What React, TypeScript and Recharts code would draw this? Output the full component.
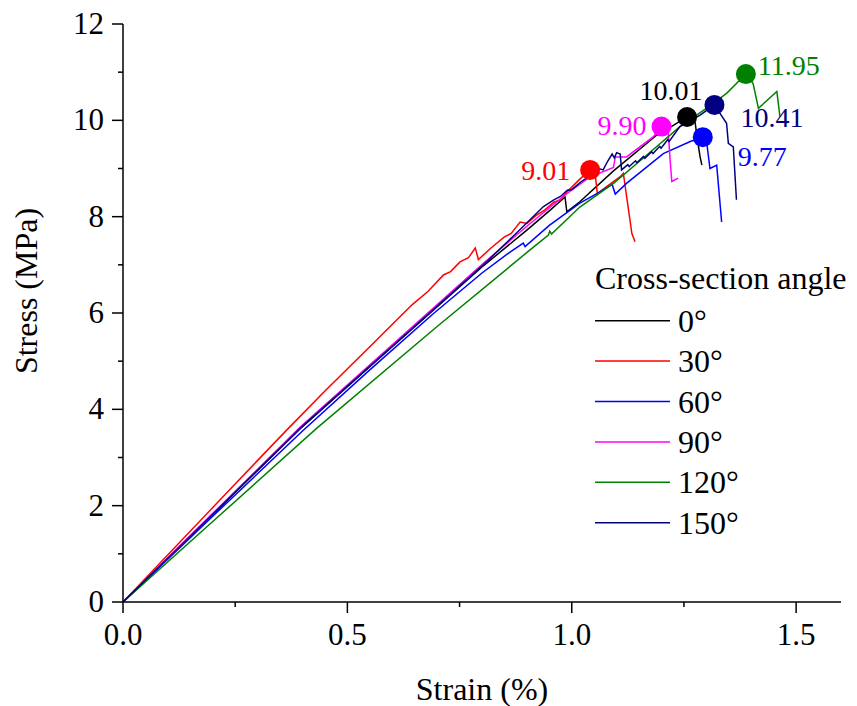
import React from 'react';
import { ComposedChart, Line, Scatter, XAxis, YAxis, Legend } from 'recharts';

const FONT = '"Liberation Serif", "Times New Roman", Times, "DejaVu Serif", serif';
const T: React.CSSProperties = { fontFamily: FONT };

// Strain (%) / Stress (MPa) points per cross-section angle
const curve0: [number, number][] = [[0,0],[0.2,1.82],[0.395,3.6],[0.6,5.3],[0.803,6.98],[0.9,7.72],[0.95,8.12],[0.985,8.41],[0.989,8.1],[1.018,8.31],[1.093,8.95],[1.189,9.69],[1.22,9.86],[1.257,10.07],[1.275,9.95],[1.28,9.6],[1.286,9.24],[1.29,9.07]];
const curve30: [number, number][] = [[0,0],[0.1,0.98],[0.2,1.96],[0.3,2.94],[0.369,3.61],[0.45,4.38],[0.55,5.3],[0.644,6.17],[0.68,6.45],[0.714,6.79],[0.73,6.86],[0.751,7.06],[0.77,7.15],[0.785,7.35],[0.792,7.11],[0.82,7.35],[0.85,7.58],[0.865,7.65],[0.885,7.89],[0.9,7.86],[0.92,8.02],[0.94,8.14],[0.96,8.3],[0.975,8.35],[0.99,8.52],[1.018,8.78],[1.041,8.97],[1.052,8.9],[1.057,8.48],[1.08,8.64],[1.108,8.83],[1.115,8.9],[1.134,7.65],[1.141,7.48]];
const curve60: [number, number][] = [[0,0],[0.2,1.78],[0.4,3.55],[0.55,4.82],[0.692,5.99],[0.8,6.83],[0.86,7.25],[0.892,7.45],[0.896,7.38],[0.95,7.82],[1.018,8.28],[1.06,8.5],[1.09,8.67],[1.097,8.47],[1.122,8.69],[1.204,9.31],[1.264,9.56],[1.292,9.65],[1.301,9.52],[1.308,9.0],[1.323,9.07],[1.334,7.89]];
const curve90: [number, number][] = [[0,0],[0.2,1.84],[0.395,3.63],[0.6,5.34],[0.803,7.03],[0.9,7.8],[0.985,8.45],[1.04,8.82],[1.093,9.02],[1.097,9.24],[1.122,9.24],[1.182,9.66],[1.2,9.87],[1.215,9.76],[1.219,9.2],[1.223,8.73],[1.237,8.8]];
const curve120: [number, number][] = [[0,0],[0.2,1.67],[0.432,3.61],[0.7,5.72],[0.907,7.31],[0.948,7.62],[0.951,7.7],[0.955,7.64],[1.018,8.2],[1.093,8.69],[1.17,9.3],[1.241,9.87],[1.3,10.25],[1.345,10.56],[1.388,10.96],[1.404,10.77],[1.416,10.25],[1.457,10.6],[1.464,10.07]];
const curve150: [number, number][] = [[0,0],[0.2,1.82],[0.395,3.61],[0.6,5.31],[0.803,7.0],[0.87,7.6],[0.937,8.21],[0.96,8.35],[0.975,8.42],[0.99,8.55],[1.0,8.56],[1.02,8.72],[1.041,8.85],[1.06,9.0],[1.07,8.97],[1.08,9.15],[1.09,9.3],[1.095,9.22],[1.1,9.33],[1.108,9.3],[1.111,8.97],[1.125,9.08],[1.128,9.04],[1.142,9.16],[1.145,9.12],[1.16,9.25],[1.163,9.21],[1.178,9.35],[1.181,9.31],[1.196,9.46],[1.199,9.42],[1.214,9.6],[1.217,9.56],[1.241,9.87],[1.26,9.97],[1.286,10.11],[1.318,10.32],[1.33,10.15],[1.345,9.94],[1.349,9.52],[1.36,9.45],[1.367,8.35]];

const seriesNames = ['0°', '30°', '60°', '90°', '120°', '150°'];
const seriesColors = ['#000000', '#ff0000', '#0000ff', '#ff00ff', '#008000', '#000080'];
const curves = [curve0, curve30, curve60, curve90, curve120, curve150];

// peak markers
const peakStrain = [1.257, 1.041, 1.292, 1.2, 1.388, 1.318];
const peakStress = [10.07, 8.97, 9.65, 9.87, 10.96, 10.32];
const peakLabels = ['10.01', '9.01', '9.77', '9.90', '11.95', '10.41'];
// label placement relative to the marker (style)
const labelStyle = [
  { anchor: 'middle', dx: -16, dy: -17 },
  { anchor: 'end', dx: -20, dy: 10 },
  { anchor: 'start', dx: 35, dy: 29 },
  { anchor: 'end', dx: -15, dy: 8 },
  { anchor: 'start', dx: 12, dy: 1 },
  { anchor: 'start', dx: 26, dy: 22 },
];

const xTicks = [0, 0.25, 0.5, 0.75, 1.0, 1.25, 1.5];
const yTicks = [0, 1, 2, 3, 4, 5, 6, 7, 8, 9, 10, 11, 12];

const XTick = (props: any) => {
  const { x, y, payload } = props;
  const v = payload.value;
  const major = Math.abs(v * 2 - Math.round(v * 2)) < 1e-6;
  return (
    <g>
      <line x1={x} y1={y} x2={x} y2={y + (major ? 11 : 5)} stroke="#000" strokeWidth={1.5} />
      {major && (
        <text x={x} y={y + 43} textAnchor="middle" style={T} fontSize={31} fill="#000">
          {v.toFixed(1)}
        </text>
      )}
    </g>
  );
};

const YTick = (props: any) => {
  const { x, y, payload } = props;
  const v = payload.value;
  const major = v % 2 === 0;
  return (
    <g>
      <line x1={x - (major ? 11 : 5)} y1={y} x2={x} y2={y} stroke="#000" strokeWidth={1.5} />
      {major && (
        <text x={x - 19} y={y + 10} textAnchor="end" style={T} fontSize={31} fill="#000">
          {String(v)}
        </text>
      )}
    </g>
  );
};

const LegendBox = () => (
  <svg width={300} height={285} style={{ display: 'block' }}>
    <text x={38} y={34} style={T} fontSize={32} fill="#000">Cross-section angle</text>
    {seriesNames.map((n, i) => {
      const cy = 65.7 + i * 40.4;
      return (
        <g key={n}>
          <line x1={38} y1={cy} x2={113} y2={cy} stroke={seriesColors[i]} strokeWidth={1.5} />
          <text x={121} y={cy + 11} style={T} fontSize={32} fill="#000">{n}</text>
        </g>
      );
    })}
  </svg>
);

const makePeakShape = (i: number) => (props: any) => {
  const { cx, cy } = props;
  const s = labelStyle[i];
  return (
    <g>
      <circle cx={cx} cy={cy} r={10} fill={seriesColors[i]} />
      <text x={cx + s.dx} y={cy + s.dy} textAnchor={s.anchor as any} style={T} fontSize={28} fill={seriesColors[i]}>
        {peakLabels[i]}
      </text>
    </g>
  );
};

export default function App() {
  return (
    <div style={{ position: 'absolute', left: 0, top: 0, width: 857, height: 706, background: '#fff', fontFamily: FONT }}>
      <ComposedChart width={857} height={706} margin={{ top: 24, right: 16, bottom: 0, left: 0 }} style={T}>
        <XAxis
          type="number"
          dataKey="x"
          domain={[0, 1.6]}
          ticks={xTicks}
          interval={0}
          allowDataOverflow
          tickLine={false}
          tickSize={0}
          tickMargin={0}
          tick={<XTick />}
          height={104}
          axisLine={{ stroke: '#000', strokeWidth: 1.5 }}
          label={{
            content: (p: any) => {
              const vb = p.viewBox;
              return (
                <text x={vb.x + vb.width / 2} y={vb.y + 98} textAnchor="middle" style={T} fontSize={32} fill="#000">
                  Strain (%)
                </text>
              );
            },
          }}
        />
        <YAxis
          type="number"
          dataKey="y"
          domain={[0, 12]}
          ticks={yTicks}
          interval={0}
          allowDataOverflow
          tickLine={false}
          tickSize={0}
          tickMargin={0}
          tick={<YTick />}
          width={123}
          axisLine={{ stroke: '#000', strokeWidth: 1.5 }}
          label={{
            content: (p: any) => {
              const vb = p.viewBox;
              const cx = 37;
              const cy = vb.y + vb.height / 2 - 22;
              return (
                <text x={cx} y={cy} transform={`rotate(-90 ${cx} ${cy})`} textAnchor="middle" style={T} fontSize={32} fill="#000">
                  Stress (MPa)
                </text>
              );
            },
          }}
        />
        <Legend
          layout="vertical"
          align="center"
          verticalAlign="middle"
          content={<LegendBox />}
          wrapperStyle={{ position: 'absolute', left: 557, top: 255, width: 300, height: 285 }}
        />
        {curves.map((c, i) => (
          <Line
            key={seriesNames[i]}
            name={seriesNames[i]}
            data={c.map(([x, y]) => ({ x, y }))}
            dataKey="y"
            type="linear"
            stroke={seriesColors[i]}
            strokeWidth={1.5}
            dot={false}
            activeDot={false}
            isAnimationActive={false}
          />
        ))}
        {peakStrain.map((px, i) => (
          <Scatter
            key={'peak' + i}
            name={'peak ' + seriesNames[i]}
            data={[{ x: px, y: peakStress[i] }]}
            dataKey="y"
            legendType="none"
            shape={makePeakShape(i)}
            isAnimationActive={false}
          />
        ))}
      </ComposedChart>
    </div>
  );
}
